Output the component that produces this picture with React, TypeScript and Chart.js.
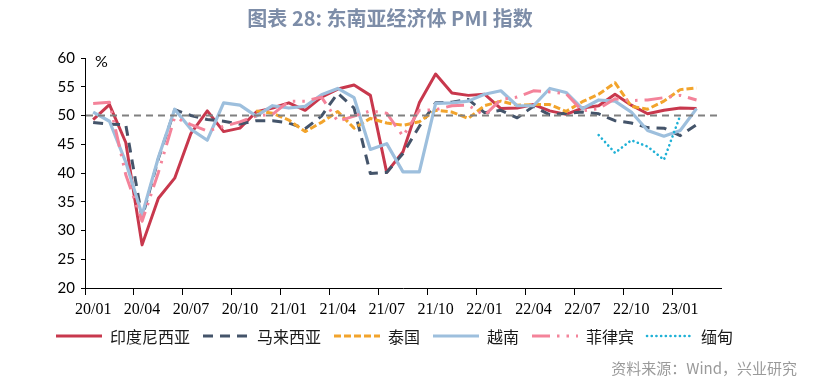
import React, { useEffect, useRef } from 'react';
import { Chart, registerables } from 'chart.js';

Chart.register(...registerables);

const CATEGORIES = [
  '20/01', '20/02', '20/03', '20/04', '20/05', '20/06', '20/07', '20/08', '20/09', '20/10', '20/11', '20/12',
  '21/01', '21/02', '21/03', '21/04', '21/05', '21/06', '21/07', '21/08', '21/09', '21/10', '21/11', '21/12',
  '22/01', '22/02', '22/03', '22/04', '22/05', '22/06', '22/07', '22/08', '22/09', '22/10', '22/11', '22/12',
  '23/01', '23/02', '23/03',
];

const INDONESIA = [
  49.3, 51.9, 45.3, 27.5, 35.6, 39.1, 46.9, 50.8, 47.2, 47.8, 50.6, 51.3,
  52.2, 50.9, 53.2, 54.6, 55.3, 53.5, 40.1, 43.7, 52.2, 57.2, 53.9, 53.5,
  53.7, 51.2, 51.3, 51.9, 50.8, 50.2, 51.3, 51.7, 53.7, 51.8, 50.3, 50.9,
  51.3, 51.2, null,
];

const MALAYSIA = [
  48.8, 48.5, 48.4, 32.2, 42.5, 51.0, 50.0, 49.3, 49.0, 48.5, 49.1, 49.1,
  48.7, 47.7, 49.9, 53.9, 51.3, 39.9, 40.1, 43.4, 48.1, 52.2, 52.3, 52.8,
  50.5, 50.9, 49.6, 51.6, 50.1, 50.4, 50.6, 50.3, 49.1, 48.7, 47.9, 47.8,
  46.5, 48.4, null,
];

const THAILAND = [
  null, null, null, null, null, null, null, null, null, null, 50.8, 50.4,
  49.2, 47.2, 48.8, 50.7, 47.8, 49.5, 48.7, 48.3, 48.9, 50.9, 50.6, 49.5,
  51.7, 52.5, 51.8, 51.9, 51.9, 50.7, 52.4, 53.7, 55.7, 51.6, 51.1, 52.5,
  54.5, 54.8, null,
];

const VIETNAM = [
  50.6, 49.0, 41.9, 32.7, 42.7, 51.1, 47.6, 45.7, 52.2, 51.8, 49.9, 51.7,
  51.3, 51.6, 53.6, 54.7, 53.1, 44.1, 45.1, 40.2, 40.2, 52.1, 52.2, 52.5,
  53.7, 54.3, 51.7, 51.7, 54.7, 54.0, 51.2, 52.7, 52.5, 50.6, 47.4, 46.4,
  47.4, 51.2, null,
];

const PHILIPPINES = [
  52.1, 52.3, 39.7, 31.6, 40.1, 49.7, 48.4, 47.3, 48.1, 48.9, 49.9, 50.2,
  52.5, 52.5, 53.2, 49.0, 49.9, 50.8, 50.4, 46.4, 50.9, 51.0, 51.7, 51.8,
  50.0, 52.8, 53.2, 54.3, 54.1, 53.8, 50.8, 51.2, 52.9, 52.6, 52.7, 53.1,
  53.5, 52.7, null,
];

const MYANMAR = [
  null, null, null, null, null, null, null, null, null, null, null, null,
  null, null, null, null, null, null, null, null, null, null, null, null,
  null, null, null, null, null, null, null, 46.6, 43.5, 45.7, 44.6, 42.3,
  50.0, null, null,
];

const SERIES_NAMES = ['印度尼西亚', '马来西亚', '泰国', '越南', '菲律宾', '缅甸'];
const REFERENCE_LEVEL = 50;
const Y_MIN = 20;
const Y_MAX = 60;
const Y_STEP = 5;
const LABEL_EVERY = 3;

const TITLE = '图表 28: 东南亚经济体 PMI 指数';
const UNIT = '%';
const SOURCE = '资料来源：Wind，兴业研究';

const CJK = '"Noto Sans CJK SC", "Noto Sans", sans-serif';

const decorPlugin = {
  id: 'decor',
  afterDatasetsDraw(chart: any) {
    const { ctx, chartArea, scales } = chart;
    const y = scales.y.getPixelForValue(REFERENCE_LEVEL);
    ctx.save();
    ctx.beginPath();
    ctx.strokeStyle = '#808080';
    ctx.lineWidth = 2;
    ctx.setLineDash([7, 5]);
    ctx.moveTo(chartArea.left + 1, y);
    ctx.lineTo(chartArea.right, y);
    ctx.stroke();
    ctx.restore();
  },
  afterDraw(chart: any) {
    const { ctx } = chart;
    ctx.save();
    // title
    ctx.font = `bold 20px ${CJK}`;
    ctx.fillStyle = '#7d8da8';
    ctx.textAlign = 'center';
    ctx.textBaseline = 'middle';
    ctx.fillText(TITLE, 390, 18);
    // unit
    ctx.font = '16px Lato, sans-serif';
    ctx.fillStyle = '#000';
    ctx.textAlign = 'left';
    ctx.fillText(UNIT, 95, 62);
    // source
    ctx.font = `15px ${CJK}`;
    ctx.fillStyle = '#9a9a9a';
    ctx.textAlign = 'right';
    ctx.fillText(SOURCE, 797, 368);
    // legend
    ctx.font = `16px ${CJK}`;
    ctx.textAlign = 'left';
    let x = 56;
    const ly = 336;
    chart.data.datasets.forEach((ds: any) => {
      ctx.beginPath();
      ctx.strokeStyle = ds.borderColor;
      ctx.lineWidth = ds.borderWidth;
      ctx.lineCap = ds.borderCapStyle || 'butt';
      ctx.setLineDash(ds.borderDash || []);
      ctx.moveTo(x, ly);
      ctx.lineTo(x + 46, ly);
      ctx.stroke();
      ctx.setLineDash([]);
      ctx.fillStyle = '#1a1a1a';
      ctx.fillText(ds.label, x + 54, ly + 1);
      x += 54 + ctx.measureText(ds.label).width + 13;
    });
    ctx.restore();
  },
};

export default function App() {
  const ref = useRef<HTMLCanvasElement>(null);

  useEffect(() => {
    document.body.style.margin = '0';
    const values = [INDONESIA, MALAYSIA, THAILAND, VIETNAM, PHILIPPINES, MYANMAR];
    const styles = [
      { color: '#c8384d', width: 3, dash: [] as number[], cap: 'butt' },
      { color: '#44546a', width: 3, dash: [10, 7], cap: 'butt' },
      { color: '#f2a42c', width: 3, dash: [7, 3], cap: 'butt' },
      { color: '#9dbfdd', width: 3.2, dash: [] as number[], cap: 'butt' },
      { color: '#f4839a', width: 3, dash: [18, 7, 2.5, 7, 2.5, 7], cap: 'butt' },
      { color: '#1fb1d6', width: 2.6, dash: [0.1, 4.6], cap: 'round' },
    ];
    const datasets = values.map((data, i) => ({
      label: SERIES_NAMES[i],
      data,
      borderColor: styles[i].color,
      backgroundColor: styles[i].color,
      borderWidth: styles[i].width,
      borderDash: styles[i].dash,
      borderCapStyle: styles[i].cap,
      borderJoinStyle: 'round',
      pointRadius: 0,
      tension: 0,
      fill: false,
      spanGaps: false,
      order: 10 - i,
    }));

    const chart = new Chart(ref.current!, {
      type: 'line',
      data: { labels: CATEGORIES, datasets: datasets as any },
      plugins: [decorPlugin],
      options: {
        animation: false,
        responsive: false,
        events: [],
        layout: { padding: { top: 58, right: 94, bottom: 68, left: 0 } },
        plugins: {
          legend: { display: false },
          title: { display: false },
          tooltip: { enabled: false },
        },
        scales: {
          x: {
            type: 'category',
            offset: true,
            afterFit: (scale: any) => { scale.height = 30; },
            border: { display: true, color: '#000', width: 1 },
            grid: {
              offset: true,
              drawOnChartArea: false,
              drawTicks: true,
              tickLength: 7,
              color: (ctx: any) => (ctx.index !== undefined && ctx.index % LABEL_EVERY === 0 ? '#000' : 'rgba(0,0,0,0)'),
            },
            ticks: {
              autoSkip: false,
              maxRotation: 0,
              minRotation: 0,
              padding: 5,
              color: '#000',
              font: { family: '"Liberation Serif", serif', size: 16 },
              callback: (_v: any, index: number) => (index % LABEL_EVERY === 0 ? CATEGORIES[index] : ''),
            },
          },
          y: {
            min: Y_MIN,
            max: Y_MAX,
            afterFit: (scale: any) => { scale.width = 85; },
            border: { display: true, color: '#000', width: 1 },
            grid: {
              drawOnChartArea: false,
              drawTicks: true,
              tickLength: 4,
              color: '#000',
            },
            ticks: {
              stepSize: Y_STEP,
              padding: 6,
              color: '#000',
              font: { family: 'Lato, sans-serif', size: 15 },
            },
          },
        },
      } as any,
    });
    return () => chart.destroy();
  }, []);

  return (
    <div style={{ width: 815, height: 386, position: 'relative' }}>
      <canvas ref={ref} width={815} height={386} style={{ display: 'block' }} />
    </div>
  );
}
